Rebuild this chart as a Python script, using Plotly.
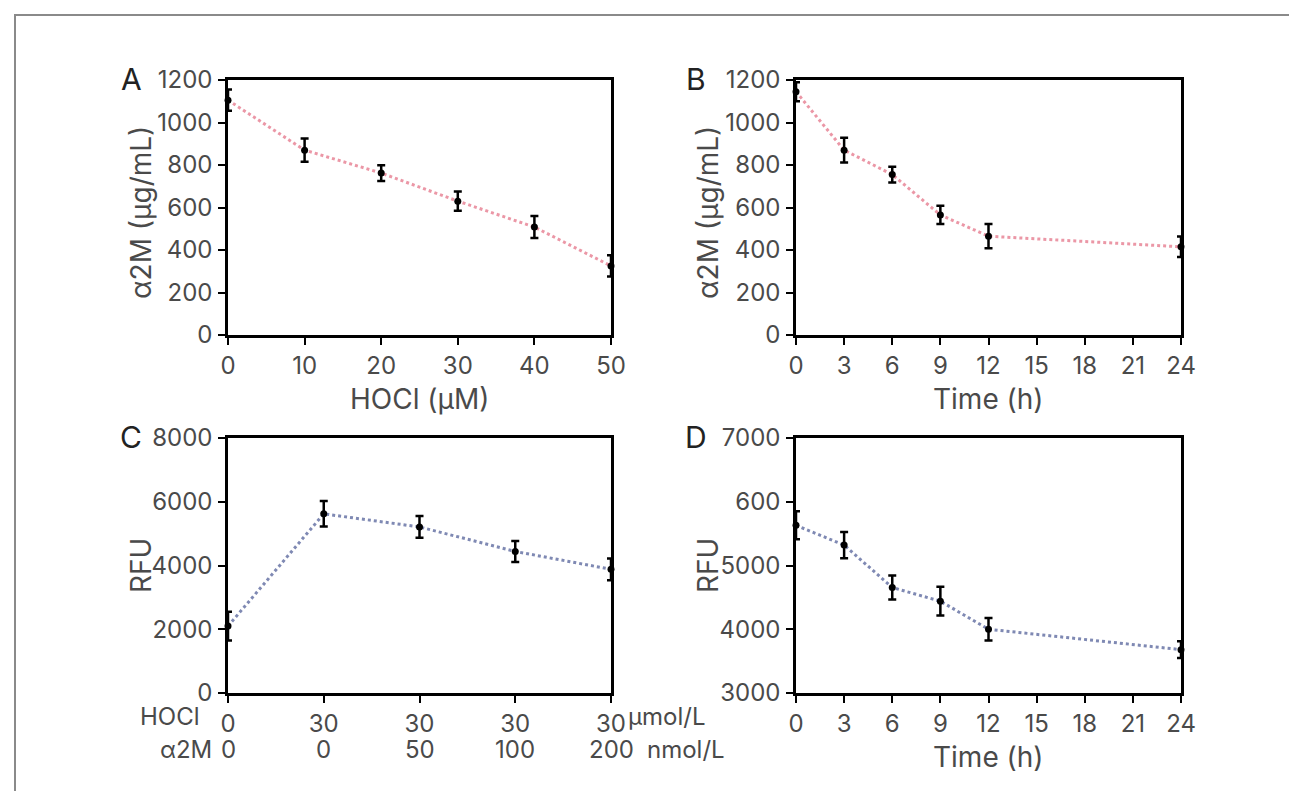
import plotly.graph_objects as go

W, H = 1297, 791

# ---------------- data ----------------
hocl_conc = [0, 10, 20, 30, 40, 50]
a2m_vs_hocl = [1105, 870, 762, 630, 508, 325]
a2m_vs_hocl_err = [50, 55, 37, 45, 52, 50]

time_b = [0, 3, 6, 9, 12, 24]
a2m_vs_time = [1145, 870, 755, 565, 465, 415]
a2m_vs_time_err = [45, 58, 37, 43, 57, 48]

c_groups = [0, 1, 2, 3, 4]
c_hocl_labels = ["0", "30", "30", "30", "30"]
c_a2m_labels = ["0", "0", "50", "100", "200"]
rfu_c = [2100, 5620, 5210, 4440, 3880]
rfu_c_err = [450, 400, 340, 330, 340]

time_d = [0, 3, 6, 9, 12, 24]
rfu_d = [5630, 5320, 4655, 4440, 4000, 3680]
rfu_d_err = [220, 205, 190, 225, 175, 130]

time_ticks = [0, 3, 6, 9, 12, 15, 18, 21, 24]
d_ytick_vals = [3000, 4000, 5000, 6000, 7000]
d_ytick_text = ["3000", "4000", "5000", "600", "7000"]

# ---------------- layout helpers ----------------
def px_x(p):
    return p / W

def px_y(p):
    return 1 - p / H

FONT = "Inter"
TICK_COLOR = "#4a4a4a"
TICK_SIZE = 24
TITLE_SIZE = 28
PINK = "#eb97a6"
BLUE = "#7f89b3"

boxes = {
    "A": dict(x=(220, 603), y=(72, 327)),
    "B": dict(x=(788, 1173), y=(72, 327)),
    "C": dict(x=(220, 603), y=(430, 685)),
    "D": dict(x=(788, 1173), y=(430, 685)),
}

fig = go.Figure()

def add_panel(idx, xs, ys, errs, color):
    xa = "x" if idx == 1 else f"x{idx}"
    ya = "y" if idx == 1 else f"y{idx}"
    fig.add_trace(go.Scatter(x=xs, y=ys, mode="lines", xaxis=xa, yaxis=ya,
                             line=dict(color=color, width=3, dash="dot"),
                             showlegend=False, cliponaxis=False, hoverinfo="skip"))
    fig.add_trace(go.Scatter(x=xs, y=ys, mode="markers", xaxis=xa, yaxis=ya,
                             marker=dict(color="black", size=7),
                             error_y=dict(type="data", array=errs, visible=True,
                                          color="black", thickness=2.5, width=4),
                             showlegend=False, cliponaxis=False))

add_panel(1, hocl_conc, a2m_vs_hocl, a2m_vs_hocl_err, PINK)
add_panel(2, time_b, a2m_vs_time, a2m_vs_time_err, PINK)
add_panel(3, c_groups, rfu_c, rfu_c_err, BLUE)
add_panel(4, time_d, rfu_d, rfu_d_err, BLUE)

common_axis = dict(showline=True, linecolor="black", linewidth=2.5, mirror=True,
                   ticks="outside", ticklen=7, tickwidth=2, tickcolor="black",
                   showgrid=False, zeroline=False, automargin=False,
                   tickfont=dict(family=FONT, size=TICK_SIZE, color=TICK_COLOR))

def dom(key):
    b = boxes[key]
    return [px_x(b["x"][0]), px_x(b["x"][1])], [px_y(b["y"][1]), px_y(b["y"][0])]

dA, rA = dom("A"); dB, rB = dom("B"); dC, rC = dom("C"); dD, rD = dom("D")

fig.update_layout(
    width=W, height=H, margin=dict(l=0, r=0, t=0, b=0),
    paper_bgcolor="white", plot_bgcolor="white",
    font=dict(family=FONT, color=TICK_COLOR),
    xaxis=dict(domain=dA, anchor="y", range=[0, 50], tickvals=hocl_conc, **common_axis),
    yaxis=dict(domain=rA, anchor="x", range=[0, 1200], dtick=200, ticklabelstandoff=1, **common_axis),
    xaxis2=dict(domain=dB, anchor="y2", range=[0, 24], tickvals=time_ticks, **common_axis),
    yaxis2=dict(domain=rB, anchor="x2", range=[0, 1200], dtick=200, ticklabelstandoff=1, **common_axis),
    xaxis3=dict(domain=dC, anchor="y3", range=[0, 4], tickvals=c_groups,
                ticktext=c_hocl_labels, **common_axis),
    yaxis3=dict(domain=rC, anchor="x3", range=[0, 8000], dtick=2000, ticklabelstandoff=1, **common_axis),
    xaxis4=dict(domain=dD, anchor="y4", range=[0, 24], tickvals=time_ticks, **common_axis),
    yaxis4=dict(domain=rD, anchor="x4", range=[3000, 7000], tickvals=d_ytick_vals,
                ticktext=d_ytick_text, ticklabelstandoff=1, **common_axis),
)

ann = []
def text(x, y, s, size=TITLE_SIZE, color=TICK_COLOR, angle=0, xanchor="center", yanchor="middle"):
    ann.append(dict(x=px_x(x), y=px_y(y), xref="paper", yref="paper", text=s, showarrow=False,
                    font=dict(family=FONT, size=size, color=color), textangle=angle,
                    xanchor=xanchor, yanchor=yanchor))

# panel letters
for key, (lx, ly) in {"A": (123, 71), "B": (688, 71), "C": (123, 429), "D": (688, 429)}.items():
    text(lx, ly, key, size=30, color="#222222")

# y-axis titles
text(133, 205, "α2M (μg/mL)", angle=-90)
text(700, 205, "α2M (μg/mL)", angle=-90)
text(133, 558, "RFU", angle=-90)
text(700, 558, "RFU", angle=-90)

# x-axis titles
text(411, 391, "HOCl (μM)")
text(980, 391, "Time (h)")
text(980, 749, "Time (h)")

ROW1, ROW2 = 708, 741

# panel C second label row (α2M amounts), placed on the category scale
for g, lab in zip(c_groups, c_a2m_labels):
    ann.append(dict(x=g, y=px_y(ROW2), xref="x3", yref="paper", text=lab, showarrow=False,
                    font=dict(family=FONT, size=TICK_SIZE, color=TICK_COLOR),
                    xanchor="center", yanchor="middle"))

# panel C row labels and units
text(194, ROW1, "HOCl", size=TICK_SIZE, xanchor="right")
text(206, ROW2, "α2M", size=TICK_SIZE, xanchor="right")
text(618, ROW1, "μmol/L", size=TICK_SIZE, xanchor="left")
text(637, ROW2, "nmol/L", size=TICK_SIZE, xanchor="left")

fig.update_layout(annotations=ann)

# outer frame
fig.add_shape(type="rect", xref="paper", yref="paper",
              x0=px_x(7), x1=px_x(1289), y0=-0.2, y1=px_y(7),
              line=dict(color="#8a8a8a", width=2), fillcolor="rgba(0,0,0,0)", layer="below")

fig.write_html("out.html")
